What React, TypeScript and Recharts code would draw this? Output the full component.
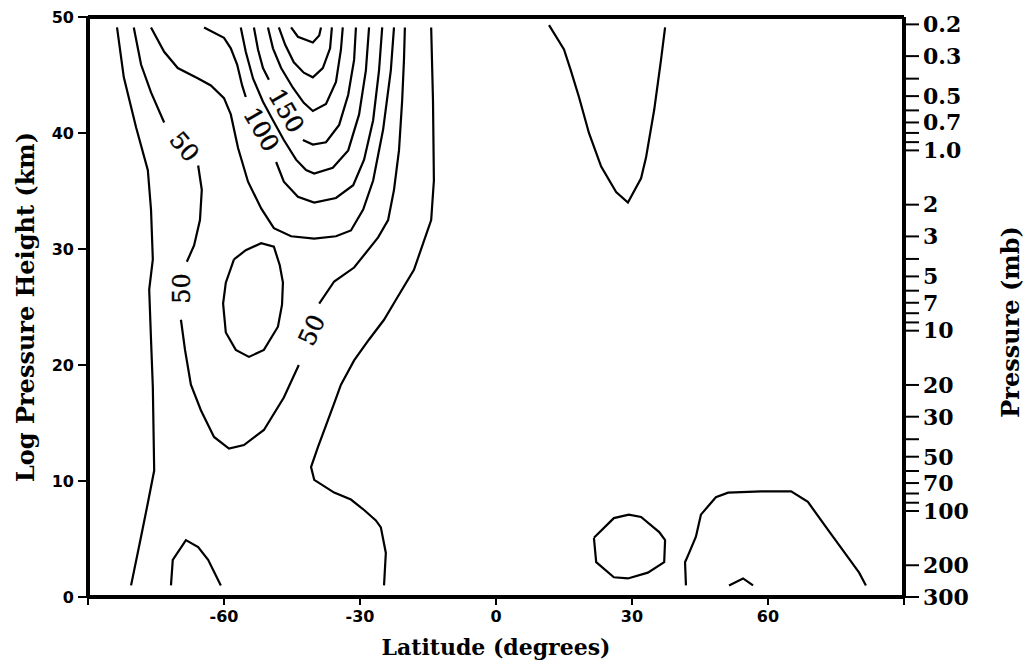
import { ScatterChart, Scatter, XAxis, YAxis, ReferenceLine } from 'recharts';

type Pt = [number, number];

// contour lines: [latitude, log-pressure height km]
const outerWest: Pt[] = [[-83.6, 49.1], [-82.1, 44.8], [-79.4, 40.5], [-76.8, 36.8], [-76.1, 33.4], [-75.7, 29.1], [-76.5, 26.5], [-76.1, 22.2], [-75.7, 18.1], [-75.4, 10.9], [-76.8, 8.1], [-78.3, 5.2], [-80.5, 1.0]];
const c50a: Pt[] = [[-79.9, 49.1], [-78.3, 45.9], [-76.1, 43.5], [-73.2, 40.9]];
const c50b: Pt[] = [[-65.7, 37.2], [-64.9, 35.1], [-65.3, 32.5], [-66.6, 30.3], [-68.2, 28.9]];
const c50c: Pt[] = [[-69.5, 23.9], [-68.6, 21.3], [-67.3, 18.3], [-65.1, 16.1], [-62.2, 13.8], [-58.9, 12.8], [-55.6, 13.1], [-51.2, 14.4], [-46.8, 17.2], [-43.5, 20.0]];
const c50d: Pt[] = [[-39.0, 25.3], [-35.7, 27.2], [-31.3, 28.4], [-26.0, 31.0], [-23.8, 32.5], [-22.5, 35.1], [-21.4, 38.5], [-20.7, 42.8], [-20.3, 46.3], [-20.1, 49.1]];
const c75: Pt[] = [[-76.1, 49.1], [-73.2, 47.0], [-70.2, 45.6], [-65.7, 44.7], [-62.9, 44.1], [-60.0, 43.0], [-58.5, 41.6], [-56.9, 38.7], [-54.7, 35.8], [-51.8, 33.5], [-49.0, 31.8], [-45.2, 31.1], [-40.1, 30.9], [-35.3, 31.1], [-32.0, 31.6], [-29.3, 33.4], [-27.1, 35.9], [-24.9, 40.3], [-23.2, 45.4], [-22.5, 49.1]];
const c100a: Pt[] = [[-64.4, 49.1], [-60.0, 48.2], [-58.5, 47.3], [-57.1, 45.9], [-56.0, 44.1], [-55.2, 43.1]];
const c100b: Pt[] = [[-48.5, 37.5], [-46.8, 35.8], [-43.7, 34.5], [-40.1, 34.0], [-35.3, 34.4], [-31.5, 35.5], [-29.1, 37.7], [-27.1, 41.1], [-25.8, 45.4], [-25.1, 49.1]];
const c125: Pt[] = [[-56.3, 49.1], [-55.2, 47.0], [-53.6, 44.7], [-51.4, 42.7], [-49.2, 41.1], [-46.8, 39.4], [-44.1, 37.7], [-41.9, 36.8], [-40.1, 36.5], [-36.0, 37.0], [-32.6, 38.5], [-30.2, 41.6], [-28.7, 45.4], [-28.0, 49.1]];
const c150a: Pt[] = [[-53.4, 49.1], [-52.5, 47.2], [-51.4, 45.6], [-50.1, 44.6]];
const c150b: Pt[] = [[-42.6, 39.4], [-40.4, 39.0], [-37.5, 39.2], [-34.6, 40.7], [-32.6, 43.3], [-31.3, 46.3], [-30.9, 49.1]];
const c175: Pt[] = [[-50.3, 49.1], [-49.2, 47.3], [-47.4, 45.6], [-44.8, 43.9], [-42.4, 42.6], [-40.4, 41.9], [-37.5, 42.5], [-35.3, 44.4], [-34.2, 47.2], [-33.8, 49.1]];
const c200: Pt[] = [[-47.9, 49.1], [-46.5, 47.6], [-44.6, 46.1], [-42.4, 45.2], [-40.4, 44.8], [-38.2, 45.6], [-36.6, 47.3], [-36.2, 49.1]];
const c225: Pt[] = [[-45.2, 49.1], [-43.7, 48.3], [-40.4, 47.8], [-39.0, 48.4], [-38.6, 49.1]];
const loopSouth: Pt[] = [[-57.8, 29.1], [-55.2, 29.9], [-51.8, 30.5], [-49.0, 30.2], [-47.7, 28.6], [-47.0, 27.1], [-47.2, 25.2], [-48.1, 23.3], [-51.2, 21.3], [-54.5, 20.7], [-57.4, 21.3], [-59.6, 22.8], [-60.2, 25.3], [-59.6, 27.1], [-57.8, 29.1]];
const outerEast: Pt[] = [[-14.3, 49.1], [-13.9, 42.8], [-13.7, 35.9], [-14.3, 32.5], [-18.1, 28.2], [-22.1, 25.6], [-24.7, 23.9], [-28.0, 22.2], [-31.3, 20.4], [-34.2, 18.3], [-35.7, 16.7], [-37.5, 14.8], [-39.3, 12.9], [-40.8, 11.2], [-40.1, 10.1], [-35.7, 9.0], [-32.0, 8.4], [-29.1, 7.5], [-26.5, 6.6], [-25.4, 6.0], [-24.3, 3.8], [-24.7, 1.0]];
const capSouth: Pt[] = [[-71.7, 1.0], [-71.3, 3.2], [-68.4, 4.9], [-65.7, 4.3], [-63.5, 3.2], [-60.7, 1.0]];
const vNorth: Pt[] = [[11.7, 49.3], [15.0, 47.2], [16.5, 45.4], [18.3, 43.1], [20.5, 40.0], [23.2, 37.1], [26.5, 34.9], [29.1, 34.0], [32.0, 36.1], [33.1, 37.9], [34.9, 42.0], [36.4, 46.3], [37.3, 49.1]];
const loopNorth: Pt[] = [[21.6, 5.1], [26.0, 6.8], [29.3, 7.1], [32.0, 6.9], [36.0, 5.6], [37.3, 4.9], [37.1, 3.0], [33.5, 2.1], [29.1, 1.6], [26.0, 1.7], [22.1, 3.0], [21.6, 5.1]];
const bumpNorth: Pt[] = [[41.9, 1.0], [41.7, 3.0], [42.6, 3.8], [44.1, 5.2], [45.2, 7.1], [48.5, 8.6], [51.2, 9.0], [58.5, 9.1], [65.1, 9.1], [68.8, 8.2], [73.2, 5.8], [77.7, 3.4], [80.1, 2.1], [81.6, 1.0]];
const capNorth: Pt[] = [[51.4, 1.0], [54.5, 1.6], [56.7, 1.0]];

const contours: Pt[][] = [
  outerWest, c50a, c50b, c50c, c50d, c75, c100a, c100b, c125, c150a, c150b,
  c175, c200, c225, loopSouth, outerEast, capSouth, vNorth, loopNorth, bumpNorth, capNorth,
];

const labelText = ['50', '50', '50', '100', '150'];
const labelLat = [-68.8, -69.3, -40.6, -51.8, -46.3];
const labelZ = [38.8, 26.6, 23.0, 40.3, 41.9];
const labelAngle = [50, -90, -65, 60, 60];

const latTicks = [-90, -60, -30, 0, 30, 60, 90];
const heightTicks = [0, 10, 20, 30, 40, 50];
const pressureTicks = [0.2, 0.3, 0.4, 0.5, 0.6, 0.7, 0.8, 0.9, 1, 2, 3, 4, 5, 6, 7, 8, 9, 10, 20, 30, 40, 50, 60, 70, 80, 90, 100, 200, 300];
const pressureLabeled = [0.2, 0.3, 0.5, 0.7, 1, 2, 3, 5, 7, 10, 20, 30, 50, 70, 100, 200, 300];

const H = 6.75;
const P0 = 300;
const toZ = (p: number) => H * Math.log(P0 / p);
const pressureZ = pressureTicks.map(toZ);

const fmtPressure = (v: number) => {
  const p = pressureTicks.find((q) => Math.abs(toZ(q) - v) < 1e-6);
  if (p === undefined || !pressureLabeled.includes(p)) return '';
  return p <= 1 ? p.toFixed(1) : String(p);
};

const labelData = labelText.map((t, i) => ({ x: labelLat[i], y: labelZ[i], text: t, angle: labelAngle[i] }));

const tickFont = { fontFamily: 'DejaVu Sans', fontWeight: 'bold', fontSize: 16, fill: '#000' };
const titleFont = { fontFamily: 'DejaVu Serif', fontWeight: 'bold', fontSize: 22 };

const LabelShape = (props: any) => {
  const { cx, cy } = props;
  const d = props.payload ?? props;
  return (
    <text x={cx} y={cy} transform={`rotate(${d.angle} ${cx} ${cy})`} textAnchor="middle"
      dominantBaseline="central" fontFamily="DejaVu Serif" fontSize={24} fill="#000"
      stroke="#000" strokeWidth={0.4}>
      {d.text}
    </text>
  );
};

export default function App() {
  return (
    <div style={{ position: 'absolute', left: 0, top: 0, background: '#fff' }}>
      <ScatterChart width={1025} height={668} margin={{ top: 17, right: 0, bottom: 0, left: 0 }}>
        <XAxis type="number" dataKey="x" domain={[-90, 90]} ticks={latTicks} allowDataOverflow height={71}
          tickFormatter={(v: number) => (Math.abs(v) === 90 ? '' : String(v))}
          axisLine={{ stroke: '#000', strokeWidth: 4 }} tickLine={{ stroke: '#000', strokeWidth: 2 }}
          tickSize={8} tickMargin={6} tick={tickFont}
          label={{
            content: ({ viewBox }: any) => (
              <text x={viewBox.x + viewBox.width / 2} y={viewBox.y + 58} textAnchor="middle" {...titleFont}>
                Latitude (degrees)
              </text>
            ),
          }} />
        <YAxis yAxisId="z" type="number" dataKey="y" domain={[0, 50]} ticks={heightTicks} allowDataOverflow width={88}
          axisLine={{ stroke: '#000', strokeWidth: 4 }} tickLine={{ stroke: '#000', strokeWidth: 2 }}
          tickSize={10} tickMargin={4} tick={tickFont}
          label={{
            content: ({ viewBox }: any) => {
              const cx = 25;
              const cy = viewBox.y + viewBox.height / 2;
              return (
                <text x={cx} y={cy} transform={`rotate(-90 ${cx} ${cy})`} textAnchor="middle" dominantBaseline="central"
                  {...titleFont} fontSize={24}>
                  Log Pressure Height (km)
                </text>
              );
            },
          }} />
        <YAxis yAxisId="p" orientation="right" type="number" domain={[0, 50]} ticks={pressureZ} allowDataOverflow width={121}
          interval={0} tickFormatter={fmtPressure}
          axisLine={{ stroke: '#000', strokeWidth: 4 }} tickLine={{ stroke: '#000', strokeWidth: 2 }}
          tickSize={15} tickMargin={4} tick={{ fontFamily: 'DejaVu Serif', fontWeight: 'bold', fontSize: 22, fill: '#000' }}
          label={{
            content: ({ viewBox }: any) => {
              const cx = viewBox.x + 106;
              const cy = viewBox.y + viewBox.height / 2 + 15;
              return (
                <text x={cx} y={cy} transform={`rotate(-90 ${cx} ${cy})`} textAnchor="middle" dominantBaseline="central"
                  {...titleFont} fontSize={24}>
                  Pressure (mb)
                </text>
              );
            },
          }} />
        <ReferenceLine yAxisId="z" y={50} stroke="#000" strokeWidth={4} />
        {contours.map((c, i) => (
          <Scatter key={i} yAxisId="z" data={c.map(([x, y]) => ({ x, y }))}
            line={{ stroke: '#000', strokeWidth: 2.2 }} shape={() => <g />} isAnimationActive={false} />
        ))}
        <Scatter yAxisId="z" data={labelData} shape={LabelShape} isAnimationActive={false} />
      </ScatterChart>
    </div>
  );
}
